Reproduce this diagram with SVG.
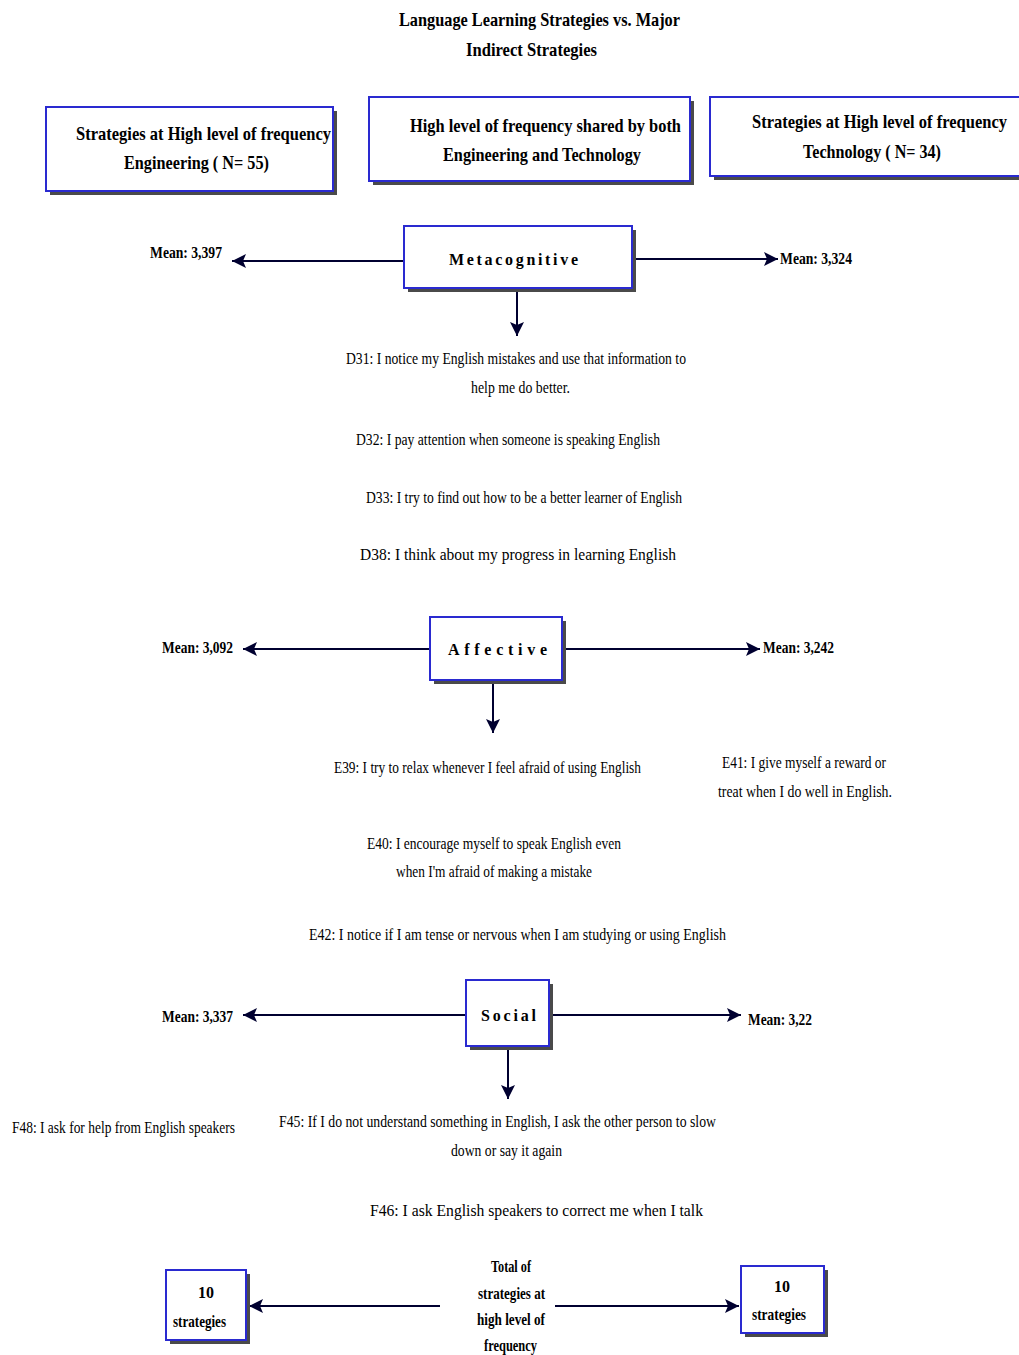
<svg xmlns="http://www.w3.org/2000/svg" width="1019" height="1355" viewBox="0 0 1019 1355">
  <style>
    text { font-family: "Liberation Serif", "Times New Roman", serif; fill: #000; }
    .t { font-size: 19px; font-weight: bold; }
    .h { font-size: 19px; font-weight: bold; }
    .c { font-size: 16px; font-weight: bold; }
    .m { font-size: 16px; font-weight: bold; }
    .b { font-size: 17px; }
    .box { fill: #fff; stroke: #2a2ad0; stroke-width: 2; }
    .shadow { fill: #4a4a4a; }
    .line { stroke: #000030; stroke-width: 2; fill: none; }
  </style>
  <defs>
    <marker id="arrow" markerUnits="userSpaceOnUse" markerWidth="16" markerHeight="16" refX="14" refY="8" orient="auto">
      <path d="M0,1 L14,8 L0,15 L3,8 Z" fill="#000030"/>
    </marker>
  </defs>
  <rect width="1019" height="1355" fill="#fff"/>

  <!-- Title -->
  <g id="title">
    <text class="t" x="399" y="26" textLength="281" lengthAdjust="spacingAndGlyphs">Language Learning Strategies vs. Major</text>
    <text class="t" x="466" y="56" textLength="131" lengthAdjust="spacingAndGlyphs">Indirect Strategies</text>
  </g>

  <!-- Header boxes -->
  <g id="hdr-engineering">
    <rect class="shadow" x="50" y="111" width="287" height="84"/>
    <rect class="box" x="46" y="107" width="287" height="84"/>
    <text class="h" x="76" y="140" textLength="255" lengthAdjust="spacingAndGlyphs">Strategies at High level of frequency</text>
    <text class="h" x="124" y="169" textLength="145" lengthAdjust="spacingAndGlyphs">Engineering ( N= 55)</text>
  </g>
  <g id="hdr-shared">
    <rect class="shadow" x="373" y="101" width="321" height="84"/>
    <rect class="box" x="369" y="97" width="321" height="84"/>
    <text class="h" x="410" y="132" textLength="271" lengthAdjust="spacingAndGlyphs">High level of frequency shared by both</text>
    <text class="h" x="443" y="161" textLength="198" lengthAdjust="spacingAndGlyphs">Engineering and Technology</text>
  </g>
  <g id="hdr-technology">
    <rect class="shadow" x="714" y="101" width="310" height="79"/>
    <rect class="box" x="710" y="97" width="312" height="79"/>
    <text class="h" x="752" y="128" textLength="255" lengthAdjust="spacingAndGlyphs">Strategies at High level of frequency</text>
    <text class="h" x="803" y="158" textLength="138" lengthAdjust="spacingAndGlyphs">Technology ( N= 34)</text>
  </g>

  <!-- Connectors -->
  <g id="connectors">
    <line class="line" x1="404" y1="261" x2="232" y2="261" marker-end="url(#arrow)"/>
    <line class="line" x1="632" y1="259" x2="778" y2="259" marker-end="url(#arrow)"/>
    <line class="line" x1="517" y1="288" x2="517" y2="336" marker-end="url(#arrow)"/>

    <line class="line" x1="430" y1="649" x2="243" y2="649" marker-end="url(#arrow)"/>
    <line class="line" x1="562" y1="649" x2="760" y2="649" marker-end="url(#arrow)"/>
    <line class="line" x1="493" y1="680" x2="493" y2="733" marker-end="url(#arrow)"/>

    <line class="line" x1="466" y1="1015" x2="243" y2="1015" marker-end="url(#arrow)"/>
    <line class="line" x1="549" y1="1015" x2="741" y2="1015" marker-end="url(#arrow)"/>
    <line class="line" x1="508" y1="1046" x2="508" y2="1099" marker-end="url(#arrow)"/>

    <line class="line" x1="440" y1="1306" x2="249" y2="1306" marker-end="url(#arrow)"/>
    <line class="line" x1="555" y1="1306" x2="739" y2="1306" marker-end="url(#arrow)"/>
  </g>

  <!-- Metacognitive -->
  <g id="metacognitive">
    <rect class="shadow" x="408" y="230" width="228" height="62"/>
    <rect class="box" x="404" y="226" width="228" height="62"/>
    <text class="c" x="449" y="265" textLength="129" lengthAdjust="spacing">Metacognitive</text>
  </g>
  <g id="meta-means">
    <text class="m" x="150" y="258" textLength="72" lengthAdjust="spacingAndGlyphs">Mean: 3,397</text>
    <text class="m" x="780" y="264" textLength="72" lengthAdjust="spacingAndGlyphs">Mean: 3,324</text>
  </g>
  <g id="meta-items">
    <text class="b" x="346" y="364" textLength="340" lengthAdjust="spacingAndGlyphs">D31: I notice my English mistakes and use that information to</text>
    <text class="b" x="471" y="393" textLength="99" lengthAdjust="spacingAndGlyphs">help me do better.</text>
    <text class="b" x="356" y="445" textLength="304" lengthAdjust="spacingAndGlyphs">D32: I pay attention when someone is speaking English</text>
    <text class="b" x="366" y="503" textLength="316" lengthAdjust="spacingAndGlyphs">D33: I try to find out how to be a better learner of English</text>
    <text class="b" x="360" y="560" textLength="316" lengthAdjust="spacingAndGlyphs">D38: I think about my progress in learning English</text>
  </g>

  <!-- Affective -->
  <g id="affective">
    <rect class="shadow" x="434" y="621" width="132" height="63"/>
    <rect class="box" x="430" y="617" width="132" height="63"/>
    <text class="c" x="448" y="655" textLength="99" lengthAdjust="spacing">Affective</text>
  </g>
  <g id="aff-means">
    <text class="m" x="162" y="653" textLength="71" lengthAdjust="spacingAndGlyphs">Mean: 3,092</text>
    <text class="m" x="763" y="653" textLength="71" lengthAdjust="spacingAndGlyphs">Mean: 3,242</text>
  </g>
  <g id="aff-items">
    <text class="b" x="334" y="773" textLength="307" lengthAdjust="spacingAndGlyphs">E39: I try to relax whenever I feel afraid of using English</text>
    <text class="b" x="722" y="768" textLength="164" lengthAdjust="spacingAndGlyphs">E41: I give myself a reward or</text>
    <text class="b" x="718" y="797" textLength="174" lengthAdjust="spacingAndGlyphs">treat when I do well in English.</text>
    <text class="b" x="367" y="849" textLength="254" lengthAdjust="spacingAndGlyphs">E40: I encourage myself to speak English even</text>
    <text class="b" x="396" y="877" textLength="196" lengthAdjust="spacingAndGlyphs">when I'm afraid of making a mistake</text>
    <text class="b" x="309" y="940" textLength="417" lengthAdjust="spacingAndGlyphs">E42: I notice if I am tense or nervous when I  am  studying or using English</text>
  </g>

  <!-- Social -->
  <g id="social">
    <rect class="shadow" x="470" y="984" width="83" height="66"/>
    <rect class="box" x="466" y="980" width="83" height="66"/>
    <text class="c" x="481" y="1021" textLength="55" lengthAdjust="spacing">Social</text>
  </g>
  <g id="soc-means">
    <text class="m" x="162" y="1022" textLength="71" lengthAdjust="spacingAndGlyphs">Mean: 3,337</text>
    <text class="m" x="748" y="1025" textLength="64" lengthAdjust="spacingAndGlyphs">Mean: 3,22</text>
  </g>
  <g id="soc-items">
    <text class="b" x="12" y="1133" textLength="223" lengthAdjust="spacingAndGlyphs">F48: I ask for help from English speakers</text>
    <text class="b" x="279" y="1127" textLength="437" lengthAdjust="spacingAndGlyphs">F45: If I do not understand something in English, I ask the other person to slow</text>
    <text class="b" x="451" y="1156" textLength="111" lengthAdjust="spacingAndGlyphs">down or say it again</text>
    <text class="b" x="370" y="1216" textLength="333" lengthAdjust="spacingAndGlyphs">F46: I ask English speakers to correct me when I talk</text>
  </g>

  <!-- Totals -->
  <g id="total-label">
    <text class="m" x="491" y="1272" textLength="40" lengthAdjust="spacingAndGlyphs">Total of</text>
    <text class="m" x="478" y="1299" textLength="67" lengthAdjust="spacingAndGlyphs">strategies at</text>
    <text class="m" x="477" y="1325" textLength="68" lengthAdjust="spacingAndGlyphs">high level of</text>
    <text class="m" x="484" y="1351" textLength="53" lengthAdjust="spacingAndGlyphs">frequency</text>
  </g>
  <g id="total-engineering">
    <rect class="shadow" x="170" y="1274" width="80" height="70"/>
    <rect class="box" x="166" y="1270" width="80" height="70"/>
    <text class="m" x="206" y="1298" text-anchor="middle">10</text>
    <text class="m" x="173" y="1327" textLength="53" lengthAdjust="spacingAndGlyphs">strategies</text>
  </g>
  <g id="total-technology">
    <rect class="shadow" x="745" y="1270" width="83" height="67"/>
    <rect class="box" x="741" y="1266" width="83" height="67"/>
    <text class="m" x="782" y="1292" text-anchor="middle">10</text>
    <text class="m" x="752" y="1320" textLength="54" lengthAdjust="spacingAndGlyphs">strategies</text>
  </g>
</svg>
